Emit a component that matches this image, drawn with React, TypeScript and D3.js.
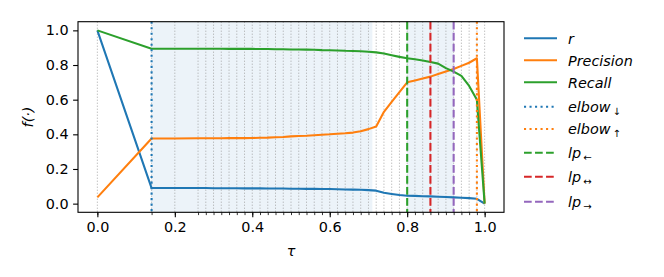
import { useEffect, useRef } from 'react';
import * as d3 from 'd3';

// thresholds tau where the metrics were evaluated
const taus = [
  0, 0.14, 0.2, 0.26, 0.28, 0.3, 0.32, 0.34, 0.36, 0.38, 0.4, 0.42, 0.44, 0.46, 0.48, 0.5, 0.52, 0.54, 0.56, 0.58,
  0.6, 0.62, 0.64, 0.66, 0.68, 0.7, 0.72, 0.74, 0.76, 0.78, 0.8, 0.82, 0.84, 0.86, 0.88, 0.9, 0.92, 0.94, 0.96,
  0.98, 1.0,
];

const rValues = [
  1.0, 0.09, 0.09, 0.09, 0.09, 0.089, 0.089, 0.089, 0.089, 0.088, 0.088, 0.088, 0.087, 0.087, 0.087, 0.086, 0.086,
  0.085, 0.085, 0.084, 0.084, 0.083, 0.082, 0.081, 0.08, 0.078, 0.075, 0.063, 0.056, 0.05, 0.046, 0.045, 0.043,
  0.042, 0.04, 0.038, 0.036, 0.034, 0.032, 0.028, 0.0,
];

const precisionValues = [
  0.036, 0.376, 0.376, 0.377, 0.377, 0.377, 0.377, 0.378, 0.378, 0.378, 0.379, 0.38, 0.381, 0.383, 0.385, 0.388,
  0.39, 0.392, 0.395, 0.398, 0.4, 0.403, 0.406, 0.41, 0.418, 0.43, 0.445, 0.53, 0.587, 0.643, 0.7, 0.711, 0.722,
  0.733, 0.748, 0.762, 0.777, 0.795, 0.813, 0.839, 0.0,
];

const recallValues = [
  1.0, 0.894, 0.894, 0.894, 0.894, 0.894, 0.894, 0.893, 0.893, 0.893, 0.893, 0.892, 0.892, 0.891, 0.891, 0.89,
  0.89, 0.889, 0.888, 0.886, 0.885, 0.884, 0.882, 0.881, 0.879, 0.877, 0.873, 0.866, 0.856, 0.847, 0.839, 0.833,
  0.826, 0.818, 0.808, 0.782, 0.762, 0.737, 0.679, 0.599, 0.0,
];

const series = [
  { name: 'r', values: rValues, color: '#1f77b4' },
  { name: 'Precision', values: precisionValues, color: '#ff7f0e' },
  { name: 'Recall', values: recallValues, color: '#2ca02c' },
];

// marker thresholds
const markers = [
  { name: 'elbow', sub: '↓', tau: 0.14, color: '#1f77b4', dash: 'dot' },
  { name: 'elbow', sub: '↑', tau: 0.98, color: '#ff7f0e', dash: 'dot' },
  { name: 'lp', sub: '←', tau: 0.8, color: '#2ca02c', dash: 'dash' },
  { name: 'lp', sub: '↔', tau: 0.86, color: '#d62728', dash: 'dash' },
  { name: 'lp', sub: '→', tau: 0.92, color: '#9467bd', dash: 'dash' },
];

// shaded tau ranges
const spans = [
  [0.14, 0.71],
  [0.8, 0.92],
];

const tickValues = [0, 0.2, 0.4, 0.6, 0.8, 1.0];

const App = () => {
  const ref = useRef(null);

  useEffect(() => {
    const svg = d3.select(ref.current);
    svg.selectAll('*').remove();

    const margin = { top: 21.7, left: 78, right: 504, bottom: 212.3 };
    const font = 'DejaVu Sans, sans-serif';
    const fs = 14.4;
    const lw = 2.08;

    const x = d3.scaleLinear().domain([-0.05, 1.05]).range([margin.left, margin.right]);
    const y = d3.scaleLinear().domain([-0.05, 1.05]).range([margin.bottom, margin.top]);

    const dashOf = (d) => (d === 'dot' ? `${lw},${lw * 1.65}` : `${lw * 3.7},${lw * 1.6}`);

    svg
      .selectAll('rect.span')
      .data(spans)
      .enter()
      .append('rect')
      .attr('x', (d) => x(d[0]))
      .attr('width', (d) => x(d[1]) - x(d[0]))
      .attr('y', margin.top)
      .attr('height', margin.bottom - margin.top)
      .attr('fill', '#1f77b4')
      .attr('fill-opacity', 0.085);

    svg
      .selectAll('line.grid')
      .data(taus)
      .enter()
      .append('line')
      .attr('x1', (d) => x(d))
      .attr('x2', (d) => x(d))
      .attr('y1', margin.top)
      .attr('y2', margin.bottom)
      .attr('stroke', '#999')
      .attr('stroke-opacity', 0.85)
      .attr('stroke-width', 1)
      .attr('stroke-dasharray', '1,2');

    const line = d3
      .line()
      .x((d) => x(d[0]))
      .y((d) => y(d[1]));

    series.forEach((s) => {
      svg
        .append('path')
        .datum(taus.map((t, i) => [t, s.values[i]]))
        .attr('d', line)
        .attr('fill', 'none')
        .attr('stroke', s.color)
        .attr('stroke-width', lw)
        .attr('stroke-linejoin', 'round');
    });

    markers.forEach((m) => {
      svg
        .append('line')
        .attr('x1', x(m.tau))
        .attr('x2', x(m.tau))
        .attr('y1', margin.top)
        .attr('y2', margin.bottom)
        .attr('stroke', m.color)
        .attr('stroke-width', lw)
        .attr('stroke-dasharray', dashOf(m.dash));
    });

    // axes
    const fmt = d3.format('.1f');
    const xAxis = svg
      .append('g')
      .attr('transform', `translate(0,${margin.bottom})`)
      .call(d3.axisBottom(x).tickValues(tickValues).tickFormat(fmt).tickSize(4.9).tickPadding(4.5));
    svg
      .append('g')
      .attr('transform', `translate(0,${margin.bottom})`)
      .call(d3.axisBottom(x).tickValues(taus).tickFormat(() => '').tickSize(2.8))
      .call((g) => g.select('.domain').remove())
      .selectAll('line')
      .attr('stroke-width', 0.8);
    const yAxis = svg
      .append('g')
      .attr('transform', `translate(${margin.left},0)`)
      .call(d3.axisLeft(y).tickValues(tickValues).tickFormat(fmt).tickSize(4.9).tickPadding(4.5));

    [xAxis, yAxis].forEach((g) => {
      g.select('.domain').remove();
      g.selectAll('line').attr('stroke', '#000').attr('stroke-width', 1.1);
      g.selectAll('text').attr('font-family', font).attr('font-size', fs).attr('fill', '#000');
    });

    svg
      .append('rect')
      .attr('x', margin.left)
      .attr('y', margin.top)
      .attr('width', margin.right - margin.left)
      .attr('height', margin.bottom - margin.top)
      .attr('fill', 'none')
      .attr('stroke', '#000')
      .attr('stroke-width', 1.1);

    svg
      .append('text')
      .attr('x', (margin.left + margin.right) / 2)
      .attr('y', 256)
      .attr('text-anchor', 'middle')
      .attr('font-family', font)
      .attr('font-size', fs)
      .attr('font-style', 'italic')
      .text('τ');

    svg
      .append('text')
      .attr('transform', `translate(33,${(margin.top + margin.bottom) / 2}) rotate(-90)`)
      .attr('text-anchor', 'middle')
      .attr('font-family', font)
      .attr('font-size', fs)
      .attr('font-style', 'italic')
      .text('f(·)');

    // legend
    const rows = [38.3, 60.3, 82.3, 106.7, 129, 152.7, 176.7, 201.7];
    const entries = [
      ...series.map((s) => ({ name: s.name, sub: '', color: s.color, dash: null })),
      ...markers.map((m) => ({ name: m.name, sub: m.sub, color: m.color, dash: m.dash })),
    ];
    const leg = svg.append('g');
    entries.forEach((e, i) => {
      leg
        .append('line')
        .attr('x1', 524)
        .attr('x2', 557)
        .attr('y1', rows[i])
        .attr('y2', rows[i])
        .attr('stroke', e.color)
        .attr('stroke-width', lw)
        .attr('stroke-dasharray', e.dash ? dashOf(e.dash) : null);
      const t = leg
        .append('text')
        .attr('x', 568)
        .attr('y', rows[i] + 5.2)
        .attr('font-family', font)
        .attr('font-size', fs)
        .attr('font-style', 'italic');
      t.append('tspan').text(e.name);
      if (e.sub) {
        t.append('tspan').attr('font-size', 10).attr('font-style', 'normal').attr('dx', 2).attr('dy', 3).text(e.sub);
      }
    });
  }, []);

  return (
    <svg
      ref={ref}
      width={664}
      height={277}
      style={{ position: 'absolute', left: 0, top: 0, background: '#fff' }}
    ></svg>
  );
};

export default App;
